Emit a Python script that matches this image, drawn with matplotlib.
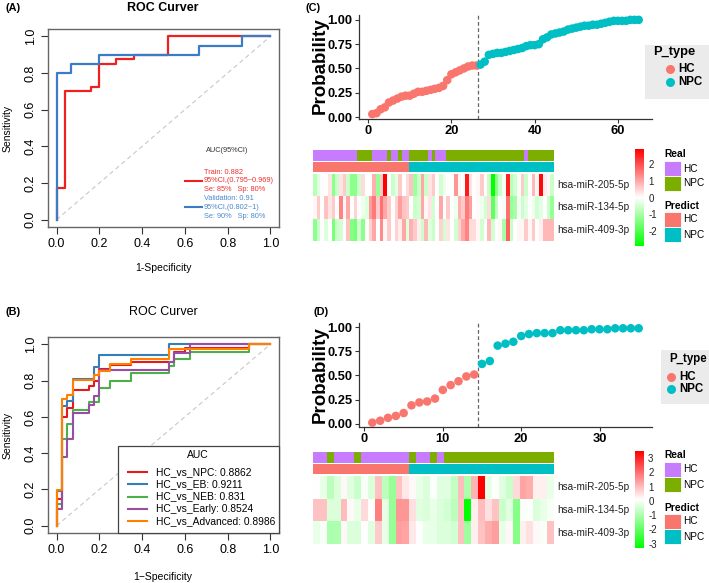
import numpy as np
import matplotlib.pyplot as plt
from matplotlib.colors import LinearSegmentedColormap, Normalize, to_rgb
from matplotlib.patches import Rectangle

plt.rcParams['font.family'] = ['Liberation Sans', 'DejaVu Sans']

# ---------------- data ----------------
# (A) ROC step vertices, train / validation
train_fpr = [0, 0, 0.04, 0.04, 0.16, 0.16, 0.2, 0.2, 0.28, 0.28, 0.36, 0.36, 0.52, 0.52, 1.0]
train_tpr = [0, 0.175, 0.175, 0.70, 0.70, 0.725, 0.725, 0.85, 0.85, 0.875, 0.875, 0.9, 0.9, 1.0, 1.0]
val_fpr = [0, 0, 0.067, 0.067, 0.2, 0.2, 0.667, 0.667, 0.867, 0.867, 1.0]
val_tpr = [0, 0.8, 0.8, 0.85, 0.85, 0.9, 0.9, 0.95, 0.95, 1.0, 1.0]
legend_a = ['Train: 0.882', '95%CI,(0.795~0.969)', 'Se: 85%   Sp: 80%',
            'Validation: 0.91', '95%CI,(0.802~1)', 'Se: 90%   Sp: 80%']

# (B) ROC step vertices per comparison
npc_fpr = [0, 0, 0.025, 0.025, 0.05, 0.05, 0.075, 0.075, 0.15, 0.15, 0.175, 0.175, 0.2, 0.2,
           0.25, 0.25, 0.35, 0.35, 0.55, 0.55, 0.6, 0.6, 0.9, 0.9, 1.0]
npc_tpr = [0, 0.15, 0.15, 0.60, 0.60, 0.65, 0.65, 0.75, 0.75, 0.77, 0.77, 0.80, 0.80, 0.865,
           0.865, 0.885, 0.885, 0.90, 0.90, 0.955, 0.955, 0.98, 0.98, 1.0, 1.0]
eb_fpr = [0, 0, 0.025, 0.025, 0.05, 0.05, 0.075, 0.075, 0.175, 0.175, 0.2, 0.2, 0.525, 0.525, 1.0]
eb_tpr = [0, 0.19, 0.19, 0.66, 0.66, 0.69, 0.69, 0.81, 0.81, 0.875, 0.875, 0.94, 0.94, 1.0, 1.0]
neb_fpr = [0, 0, 0.025, 0.025, 0.05, 0.05, 0.075, 0.075, 0.15, 0.15, 0.2, 0.2, 0.25, 0.25,
           0.35, 0.35, 0.525, 0.525, 0.55, 0.55, 0.625, 0.625, 0.9, 0.9, 1.0]
neb_tpr = [0, 0.12, 0.12, 0.48, 0.48, 0.56, 0.56, 0.64, 0.64, 0.68, 0.68, 0.76, 0.76, 0.80,
           0.80, 0.84, 0.84, 0.88, 0.88, 0.92, 0.92, 0.96, 0.96, 1.0, 1.0]
early_fpr = [0, 0, 0.025, 0.025, 0.05, 0.05, 0.075, 0.075, 0.15, 0.15, 0.175, 0.175, 0.2, 0.2,
             0.525, 0.525, 0.55, 0.55, 0.625, 0.625, 1.0]
early_tpr = [0, 0.095, 0.095, 0.38, 0.38, 0.476, 0.476, 0.62, 0.62, 0.667, 0.667, 0.714, 0.714,
             0.857, 0.857, 0.905, 0.905, 0.952, 0.952, 1.0, 1.0]
adv_fpr = [0, 0, 0.025, 0.025, 0.05, 0.05, 0.075, 0.075, 0.175, 0.175, 0.2, 0.2, 0.25, 0.25,
           0.35, 0.35, 0.525, 0.525, 0.9, 0.9, 1.0]
adv_tpr = [0, 0.195, 0.195, 0.70, 0.70, 0.72, 0.72, 0.805, 0.805, 0.83, 0.83, 0.855, 0.855,
           0.89, 0.89, 0.917, 0.917, 0.972, 0.972, 1.0, 1.0]
legend_b = ['HC_vs_NPC: 0.8862', 'HC_vs_EB: 0.9211', 'HC_vs_NEB: 0.831',
            'HC_vs_Early: 0.8524', 'HC_vs_Advanced: 0.8986']

# (C) sorted predicted probability, 26 HC then 39 NPC
prob_c = [0.03, 0.04, 0.08, 0.10, 0.15, 0.17, 0.19, 0.21, 0.22, 0.22, 0.24, 0.26, 0.26,
          0.27, 0.28, 0.29, 0.30, 0.32, 0.38, 0.44, 0.46, 0.48, 0.50, 0.52, 0.53, 0.53,
          0.54, 0.57, 0.64, 0.65, 0.66, 0.66, 0.67, 0.68, 0.69, 0.70, 0.71, 0.73, 0.74,
          0.74, 0.75, 0.80, 0.82, 0.85, 0.86, 0.87, 0.88, 0.90, 0.91, 0.92, 0.93, 0.94,
          0.94, 0.95, 0.95, 0.96, 0.97, 0.98, 0.99, 0.99, 0.99, 0.99, 1.00, 1.00, 1.00]
n_hc_c = 26
real_c = (['HC'] * 12 + ['NPC'] * 4 + ['HC'] * 4 + ['NPC'] + ['HC'] * 2 + ['NPC'] + ['HC'] * 2
          + ['NPC'] * 5 + ['HC'] + ['NPC'] + ['HC'] * 3 + ['NPC'] * 21 + ['HC'] + ['NPC'] * 7)
c_205 = [-0.8, -0.3, 0.0, 0.0, 0.3, -1.3, -0.6, 0.3, 0.6, -0.6, -1.3, -1.3, -0.6, 0.4, 0.0,
         0.0, 0.9, -1.2, 0.6, 2.9, 0.0, -0.6, -0.3, 0.6, 0.0, 0.4, 0.7, -1.1, -0.6, 1.0, -0.6,
         0.3, 0.6, 0.0, -0.5, -0.2, 0.0, 0.0, 1.2, 0.1, 0.0, 2.6, 0.3, 0.0, 0.1, 0.6, 0.0,
         -0.6, -2.9, -1.3, -0.6, -0.1, 2.5, -0.8, -0.5, -0.1, 0.6, -0.6, 0.0, 0.8, 0.1, 2.8,
         0.2, 0.1, -0.6]
c_134 = [0.1, 0.6, 0.0, 0.7, 0.3, 0.6, 0.0, 1.4, 0.1, 1.0, 0.0, 0.5, 0.0, -0.2, -0.4, 1.1,
         1.5, 0.6, 1.6, 1.0, 0.6, 0.0, 0.5, 1.1, 0.7, 0.6, 0.0, -0.6, -0.5, 1.0, 0.1, 0.3,
         -0.5, 0.0, 1.0, 0.0, 0.6, 0.0, -0.2, 0.9, 0.6, 1.5, 1.1, 0.0, 0.05, -0.2, -0.5, 0.4,
         -1.8, -0.7, 0.0, -0.1, 1.6, -1.2, -1.0, -0.1, -0.6, -0.3, 0.0, -0.2, -0.5, -0.3, 0.0,
         -0.6, -1.2]
c_409 = [-1.3, -0.6, 0.0, -0.4, 0.0, -1.5, -0.6, -0.5, 0.0, 0.7, -1.4, -1.5, -0.5, -1.3, 0.0,
         0.5, 1.0, 0.0, 1.3, 0.1, 0.6, 0.0, 0.5, 0.2, 1.0, -0.4, 0.9, 0.6, 0.2, -0.6, 0.8,
         -0.4, -0.6, 0.0, 0.5, -0.5, 0.3, 0.0, -0.5, 0.5, 1.0, 1.4, 0.4, 0.4, 0.1, -0.5, 0.0,
         0.8, -0.5, 0.0, 0.1, -1.0, 1.8, -0.6, 0.0, 0.1, 0.1, 0.6, 0.1, 0.6, 0.0, 0.2, 0.8,
         0.8, 0.8]

# (D) sorted predicted probability, 14 HC then 21 NPC
prob_d = [0.01, 0.03, 0.06, 0.08, 0.11, 0.19, 0.22, 0.23, 0.26, 0.35, 0.40, 0.44, 0.49, 0.51,
          0.62, 0.65, 0.81, 0.83, 0.85, 0.91, 0.93, 0.94, 0.94, 0.94, 0.97, 0.97, 0.97, 0.97,
          0.98, 0.98, 0.98, 0.99, 0.99, 0.99, 0.99]
n_hc_d = 14
real_d = (['HC'] * 2 + ['NPC'] + ['HC'] * 3 + ['NPC'] + ['HC'] * 7 + ['NPC'] + ['HC'] * 2
          + ['NPC'] + ['HC'] + ['NPC'] * 16)
d_205 = [0.1, -0.2, -0.8, -0.4, 0.2, -0.3, -0.6, 0.0, -0.4, 0.9, -0.8, -1.3, 0.9, 0.4, 0.2,
         -0.2, -0.4, 0.05, -0.3, -0.3, -0.7, 1.0, -1.0, 1.1, 3.5, -0.2, 0.05, -0.3, -0.6, 0.6,
         1.3, 1.2, 0.3, 0.3, -0.2]
d_134 = [0.9, 0.9, -0.4, -0.4, 1.0, 0.2, -0.2, 0.6, 0.1, 1.8, -0.2, -1.3, 1.5, 1.5, 0.5,
         -0.3, -0.4, -0.2, -0.4, -0.5, -0.8, 0.9, -3.3, 0.3, 1.0, 0.5, 0.9, -0.6, -0.3, -1.5,
         0.0, 0.05, -0.4, -0.2, 0.0]
d_409 = [-0.2, 0.0, -1.0, -1.0, 0.2, -0.4, -0.4, 0.1, -0.3, 0.8, -0.2, -1.3, 1.4, 1.3, 0.4,
         0.1, -0.2, -0.2, -0.4, -0.4, -0.5, 0.9, -1.2, 0.3, 0.9, 1.2, 1.4, -0.2, 0.2, -1.5,
         0.3, 0.5, 0.2, 0.0, 0.9]
genes = ['hsa-miR-205-5p', 'hsa-miR-134-5p', 'hsa-miR-409-3p']

HC_COL, NPC_COL = '#F8766D', '#00BFC4'
REAL_COL = {'HC': '#C77CFF', 'NPC': '#7CAE00'}
PRED_COL = {'HC': HC_COL, 'NPC': NPC_COL}
roc_cols = ['#E41A1C', '#377EB8', '#4DAF4A', '#984EA3', '#FF7F00']
hm_cmap = LinearSegmentedColormap.from_list('gwr', ['#00FF00', '#FFFFFF', '#FF0000'])

# ---------------- layout helpers (pixel coordinates) ----------------
W, H = 709, 583
fig = plt.figure(figsize=(W / 100, H / 100), dpi=100)


def rect(l, t, r, b):
    return [l / W, 1 - b / H, (r - l) / W, (b - t) / H]


def roc_axes(t, b):
    ax = fig.add_axes(rect(48, t, 279, b))
    ax.set_xlim(-0.04, 1.04)
    ax.set_ylim(-0.04, 1.04)
    ax.plot([0, 1], [0, 1], ls=(0, (4, 3)), color='#c8c8c8', lw=0.8)
    ticks = [0, 0.2, 0.4, 0.6, 0.8, 1.0]
    labs = ['0.0', '0.2', '0.4', '0.6', '0.8', '1.0']
    ax.set_xticks(ticks, labs)
    ax.set_yticks(ticks, labs, rotation=90, va='center')
    ax.tick_params(direction='out', length=5, width=0.8, labelsize=9, pad=3, color='#333333')
    for s in ax.spines.values():
        s.set_color('#666666')
        s.set_linewidth(1)
    return ax


def prob_axes(t, b, ylim, prob, n_hc, xticks):
    ax = fig.add_axes(rect(359, t, 652, b))
    n = len(prob)
    x = np.arange(1, n + 1)
    cols = [HC_COL] * n_hc + [NPC_COL] * (n - n_hc)
    ax.axvline(n_hc + 0.5, color='#666666', ls=(0, (3, 2)), lw=0.9, zorder=1)
    ax.scatter(x, prob, s=38, c=cols, linewidths=0, zorder=3, clip_on=False)
    pad = 0.05 * (n - 1)
    ax.set_xlim(1 - pad, n + pad)
    ax.set_ylim(*ylim)
    ax.set_xticks(xticks)
    ax.set_yticks([0, 0.25, 0.5, 0.75, 1.0], ['0.00', '0.25', '0.50', '0.75', '1.00'])
    ax.tick_params(length=3, width=0.8, color='#333333', labelsize=9.3, pad=1.5)
    for lab in ax.get_xticklabels() + ax.get_yticklabels():
        lab.set_fontweight('bold')
    for s in ['top', 'right']:
        ax.spines[s].set_visible(False)
    for s in ['left', 'bottom']:
        ax.spines[s].set_color('#333333')
        ax.spines[s].set_linewidth(0.9)
    return ax


def heat_block(t_real, t_pred, t_hm, b_hm, real, n_hc, rows, cb_t, cb_b, cb_ticks):
    n = len(real)
    ra = fig.add_axes(rect(313, t_real, 554, t_real + 11))
    ra.imshow([[to_rgb(REAL_COL[v]) for v in real]], aspect='auto', interpolation='nearest')
    ra.axis('off')
    pred = ['HC'] * n_hc + ['NPC'] * (n - n_hc)
    pa = fig.add_axes(rect(313, t_pred, 554, t_pred + 10))
    pa.imshow([[to_rgb(PRED_COL[v]) for v in pred]], aspect='auto', interpolation='nearest')
    pa.axis('off')
    mat = np.array(rows)
    norm = Normalize(mat.min(), mat.max())
    ha = fig.add_axes(rect(313, t_hm, 554, b_hm))
    ha.imshow(mat, cmap=hm_cmap, norm=norm, aspect='auto', interpolation='nearest')
    ha.axis('off')
    rh = (b_hm - t_hm) / 3
    for i, g in enumerate(genes):
        fig.text(557 / W, 1 - (t_hm + rh * (i + 0.5)) / H, g, fontsize=7.2, va='center',
                 color='#222222')
    ca = fig.add_axes(rect(635, cb_t, 644, cb_b))
    grad = np.linspace(mat.max(), mat.min(), 256)[:, None]
    ca.imshow(grad, cmap=hm_cmap, norm=norm, aspect='auto',
              extent=[0, 1, mat.min(), mat.max()])
    ca.set_xticks([])
    ca.yaxis.tick_right()
    ca.set_yticks(cb_ticks, [str(v) for v in cb_ticks])
    ca.tick_params(length=0, labelsize=7, pad=3, labelcolor='#222222')
    for s in ca.spines.values():
        s.set_visible(False)


# ---------------- (A) ----------------
ax_a = roc_axes(29, 227)
ax_a.plot(train_fpr, train_tpr, color='#EE2020', lw=1.6)
ax_a.plot(val_fpr, val_tpr, color='#3A7DC4', lw=1.6)

# ---------------- (B) ----------------
ax_b = roc_axes(337, 533)
for fx, ty, c in zip([npc_fpr, eb_fpr, neb_fpr, early_fpr, adv_fpr],
                     [npc_tpr, eb_tpr, neb_tpr, early_tpr, adv_tpr], roc_cols):
    ax_b.plot(fx, ty, color=c, lw=1.5)

# ---------------- (C) / (D) ----------------
prob_axes(15, 119, (-0.02, 1.05), prob_c, n_hc_c, [0, 20, 40, 60])
heat_block(150, 162, 174, 241, real_c, n_hc_c, [c_205, c_134, c_409], 149, 246, [-2, -1, 0, 1, 2])
prob_axes(323, 427, (-0.035, 1.045), prob_d, n_hc_d, [0, 10, 20, 30])
heat_block(452, 464, 476, 544, real_d, n_hc_d, [d_205, d_134, d_409], 451, 548,
           [-3, -2, -1, 0, 1, 2, 3])

# ---------------- overlay: labels and legends ----------------
ov = fig.add_axes([0, 0, 1, 1])
ov.set_xlim(0, W)
ov.set_ylim(H, 0)
ov.axis('off')

for x, y, s in [(5, 8, '(A)'), (5, 312, '(B)'), (305, 8, '(C)'), (313, 312, '(D)')]:
    ov.text(x, y, s, fontsize=7.8, fontweight='bold', va='center')
ov.text(163, 8, 'ROC Curver', fontsize=9, fontweight='bold', ha='center', va='center')
ov.text(163, 312, 'ROC Curver', fontsize=9, ha='center', va='center')
ov.text(163, 268, '1-Specificity', fontsize=7.5, ha='center', va='center')
ov.text(163, 577, '1\u2212Specificity', fontsize=7.5, ha='center', va='center')
ov.text(8, 128, 'Sensitivity', fontsize=7.5, rotation=90, ha='center', va='center')
ov.text(8, 435, 'Sensitivity', fontsize=7.5, rotation=90, ha='center', va='center')

# legend A
ov.text(227, 150, 'AUC(95%CI)', fontsize=5.3, ha='center', va='center', color='#333333')
for i, s in enumerate(legend_a):
    ov.text(204, 172 + i * 8.8, s, fontsize=5.3, va='center',
            color='#EE3030' if i < 3 else '#4A8ACD')
ov.plot([185, 202], [181, 181], color='#EE2020', lw=1.5)
ov.plot([185, 202], [207, 207], color='#3A7DC4', lw=1.5)

# legend B
ov.add_patch(Rectangle((118, 446), 161, 87, facecolor='white', edgecolor='#444444', lw=0.9))
ov.text(198, 455, 'AUC', fontsize=7.5, ha='center', va='center')
for i, (s, c) in enumerate(zip(legend_b, roc_cols)):
    y = 472 + i * 12.3
    ov.plot([128, 147], [y, y], color=c, lw=1.5)
    ov.text(156, y, s, fontsize=7.4, va='center')

# Probability labels
ov.text(320, 66, 'Probability', fontsize=13.5, fontweight='bold', rotation=90,
        ha='center', va='center')
ov.text(320, 375, 'Probability', fontsize=13.5, fontweight='bold', rotation=90,
        ha='center', va='center')

# P_type legends
for bx, by, bw, tsize, ys in [(645, 45, 64, 9.3, (52, 69, 82)), (661, 350, 48, 8.3, (359, 377, 389))]:
    ov.add_patch(Rectangle((bx, by), bw, 54, facecolor='#EBEBEB', edgecolor='none'))
    ov.text(bx + 8, ys[0], 'P_type', fontsize=tsize, fontweight='bold', va='center')
    cx = bx + 10 if bw < 60 else bx + 25
    for yy, c, lab in [(ys[1], HC_COL, 'HC'), (ys[2], NPC_COL, 'NPC')]:
        ov.scatter([cx], [yy], s=42, color=c, linewidths=0)
        ov.text(cx + 8, yy, lab, fontsize=8.3, fontweight='bold', va='center')

# Real / Predict legends
for y0, y1 in [(154, 206), (455, 508)]:
    ov.text(664, y0, 'Real', fontsize=7.4, fontweight='bold', va='center')
    ov.text(664, y1, 'Predict', fontsize=7.4, fontweight='bold', va='center')
    for k, (lab, col) in enumerate(REAL_COL.items()):
        ov.add_patch(Rectangle((664, y0 + 7 + 15 * k), 17, 15, facecolor=col, edgecolor='white', lw=0.6))
        ov.text(683, y0 + 14.5 + 15 * k, lab, fontsize=7.2, va='center')
    for k, (lab, col) in enumerate(PRED_COL.items()):
        ov.add_patch(Rectangle((664, y1 + 6 + 15 * k), 17, 15, facecolor=col, edgecolor='white', lw=0.6))
        ov.text(683, y1 + 13.5 + 15 * k, lab, fontsize=7.2, va='center')

fig.savefig('out.png', dpi=100, facecolor='white')
